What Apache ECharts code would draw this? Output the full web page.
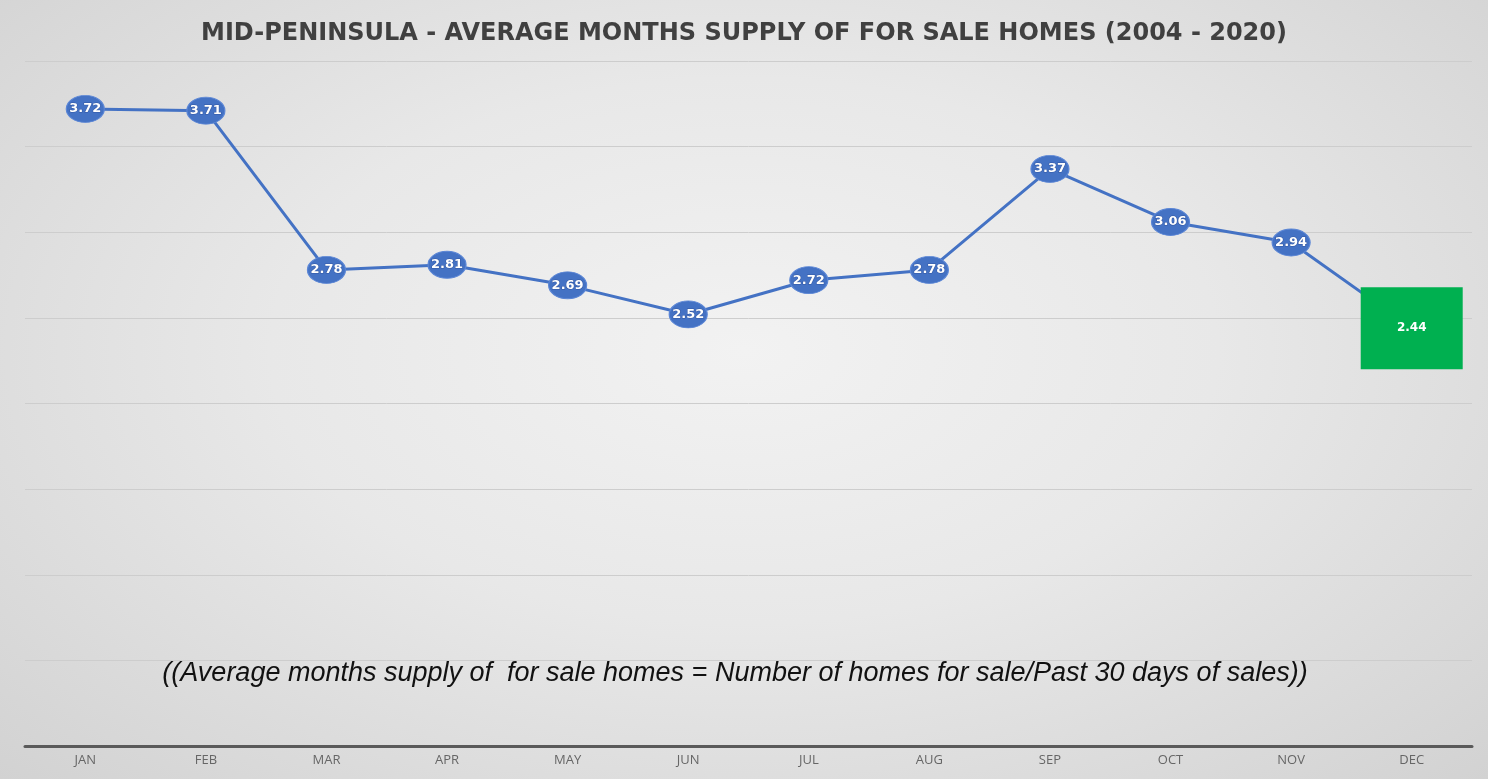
<!DOCTYPE html>
<html>
<head>
<meta charset="utf-8">
<script src="https://cdn.jsdelivr.net/npm/echarts@6/dist/echarts.min.js"></script>
<style>
  html, body { margin: 0; padding: 0; background: #ffffff; }
  #chart {
    width: 1488px;
    height: 779px;
    background: radial-gradient(ellipse at 50% 45%, #f2f2f2 0%, #e8e8e8 45%, #d2d2d2 100%);
  }
</style>
</head>
<body>
<div id="chart"></div>
<script>
const months = ['JAN', 'FEB', 'MAR', 'APR', 'MAY', 'JUN', 'JUL', 'AUG', 'SEP', 'OCT', 'NOV', 'DEC']
const supply = [3.72, 3.71, 2.78, 2.81, 2.69, 2.52, 2.72, 2.78, 3.37, 3.06, 2.94, 2.44]
const highlightMonth = 'DEC'

const chartTitle = 'MID-PENINSULA - AVERAGE MONTHS SUPPLY OF FOR SALE HOMES (2004 - 2020)'
const noteText = '((Average months supply of  for sale homes = Number of homes for sale/Past 30 days of sales))'

const BLUE = '#4472c4'
const GREEN = '#00b050'
const ELLIPSE = 'path://M0,13 A18,13 0 1,1 36,13 A18,13 0 1,1 0,13 Z'

const chart = echarts.init(document.getElementById('chart'))

const points = supply.map((v, i) => {
  if (months[i] !== highlightMonth) return v
  return {
    value: v,
    symbol: 'rect',
    symbolSize: [102, 82],
    itemStyle: { color: GREEN, borderWidth: 0 },
    label: { fontSize: 12, fontWeight: 'bold', color: '#ffffff', textBorderWidth: 0 },
  }
})

const option = {
  backgroundColor: 'transparent',
  title: [
    {
      text: chartTitle,
      left: 'center',
      top: 17,
      textStyle: {
        color: '#404040',
        fontSize: 24,
        fontWeight: 'bold',
        fontFamily: 'DejaVu Sans, sans-serif',
      },
    },
    {
      text: noteText,
      left: 730,
      textAlign: 'center',
      top: 655,
      textStyle: {
        color: '#111111',
        fontSize: 27,
        fontStyle: 'italic',
        fontWeight: 'normal',
        fontFamily: 'Liberation Sans, Arial, sans-serif',
      },
    },
  ],
  grid: {
    left: 25,
    right: 16,
    top: 61,
    bottom: 33,
  },
  xAxis: {
    type: 'category',
    data: months,
    boundaryGap: true,
    axisLine: { lineStyle: { color: '#5a5a5a', width: 3 } },
    axisTick: { show: false },
    axisLabel: {
      color: '#666666',
      fontSize: 13,
      margin: 8,
      fontFamily: 'Open Sans, sans-serif',
    },
  },
  yAxis: {
    type: 'value',
    min: 0,
    max: 4,
    interval: 0.5,
    axisLabel: { show: false },
    axisLine: { show: false },
    axisTick: { show: false },
    splitLine: { lineStyle: { color: '#cdcdcd', width: 1 } },
  },
  series: [
    {
      type: 'line',
      data: points,
      symbol: ELLIPSE,
      symbolSize: [38, 27],
      lineStyle: { color: BLUE, width: 3 },
      itemStyle: { color: BLUE, borderColor: '#5b86d6', borderWidth: 1 },
      label: {
        show: true,
        position: 'inside',
        color: '#ffffff',
        fontSize: 13,
        fontWeight: 'bold',
        fontFamily: 'DejaVu Sans, sans-serif',
        textBorderColor: 'rgba(40,70,140,0.6)',
        textBorderWidth: 1,
        formatter: (p) => p.value.toFixed(2),
      },
      z: 3,
      animation: false,
    },
  ],
  animation: false,
}

chart.setOption(option)
</script>
</body>
</html>
